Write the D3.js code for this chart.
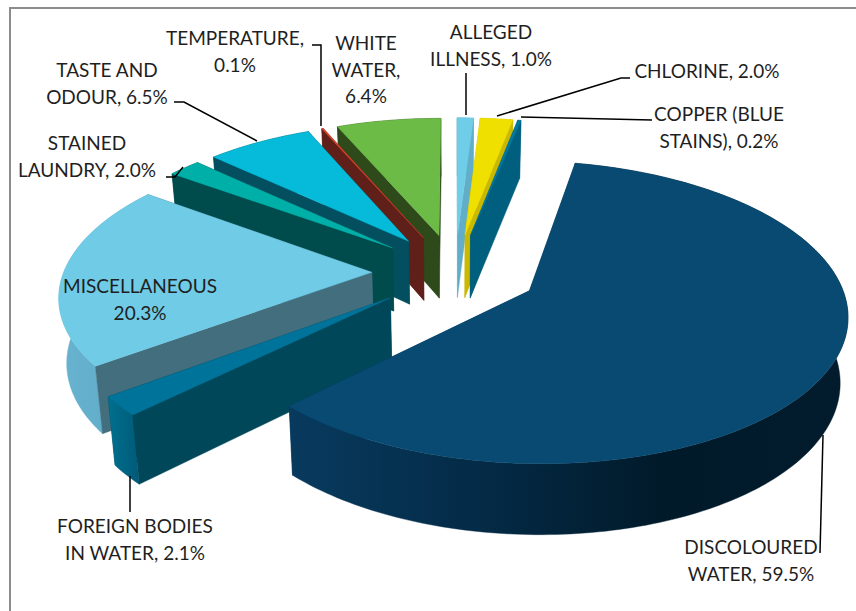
<!DOCTYPE html>
<html><head><meta charset="utf-8">
<style>html,body{margin:0;padding:0;background:#fff}svg{display:block}text{font-family:Lato,"Open Sans",sans-serif;font-size:19px;fill:#1f1f1f}</style>
<script src="https://cdn.jsdelivr.net/npm/d3@7"></script></head>
<body><svg id="c" width="856" height="611"></svg>
<script>
const categories=["DISCOLOURED WATER","FOREIGN BODIES IN WATER","MISCELLANEOUS","STAINED LAUNDRY","TASTE AND ODOUR","TEMPERATURE","WHITE WATER","ALLEGED ILLNESS","CHLORINE","COPPER (BLUE STAINS)"];
const values=[59.5,2.1,20.3,2.0,6.5,0.1,6.4,1.0,2.0,0.2];
const labelLines=[["DISCOLOURED","WATER, 59.5%"],["FOREIGN BODIES","IN WATER, 2.1%"],["MISCELLANEOUS","20.3%"],["STAINED","LAUNDRY, 2.0%"],["TASTE AND","ODOUR, 6.5%"],["TEMPERATURE,","0.1%"],["WHITE","WATER,","6.4%"],["ALLEGED","ILLNESS, 1.0%"],["CHLORINE, 2.0%"],["COPPER (BLUE","STAINS), 0.2%"]];
const topColors=["#084a72","#00739a","#6fcbe6","#00b0a8","#06bad9","#e0432b","#6cbb47","#70cde8","#efe000","#00799f"];
const sideColors=["#073a5c","#00475a","#426e7e","#004b4b","#034f60","#60201a","#2e4a1b","#62adc8","#cbb800","#005f7f"];
const outerColors=[["#083a5e","#042b47","#011a2a","#021c2d"],["#00708f","#005a78"],["#68b3cf","#5ba8c6"],["#004b4b"],["#034f60"],["#60201a"],["#2e4a1b"],["#62adc8"],["#cbb800"],["#005f7f"]];
const paintOrder=[7,8,9,6,5,4,3,2,1,0];
const labelPos=[[751,548],[135,527],[140,287],[87,144],[107,71],[235,39],[366,44],[491,33],[707,72],[719,115]];
const leaders=[[[823,435],[820,553]],[[130,476],[130,512]],[],[[166,177],[175,177],[183,167]],[[174,102],[184,102],[257,141]],[[312,45],[321,45],[321,126]],[],[[466,73],[466,115]],[[630,78],[621,78],[497,116]],[[652,120],[521,117]]];

const cx=455,cy=272,persp=0.14,explode=0.27,depth=64,startDeg=11.5,inset=0.02;
const sx=d3.scaleLinear().domain([-1,1]).range([-308,308]);
const sy=d3.scaleLinear().domain([-1,1]).range([-143,143]);
const project=(X,Y,z)=>{const s=1/(1-persp*Y);return [cx+sx(X)*s*(1-inset*z),cy+sy(Y)*s+z*depth*Math.pow(s,0.6)];};
const a0=startDeg*Math.PI/180;
const pie=d3.pie().sort(null).startAngle(a0).endAngle(a0+2*Math.PI);
const arcs=pie(values);
const svg=d3.select("#c");
const defs=svg.append("defs");
const line=d3.line();
const area2=p=>{let a=0;p.forEach((q,i)=>{const r=p[(i+1)%p.length];a+=q[0]*r[1]-r[0]*q[1];});return a/2;};

arcs.forEach((d,i)=>{
  const mid=(d.startAngle+d.endAngle)/2;
  const ox=explode*Math.sin(mid),oy=-explode*Math.cos(mid);
  const rim=(t,z)=>project(ox+Math.sin(t),oy-Math.cos(t),z);
  const apex=z=>project(ox,oy,z);
  const n=Math.max(2,Math.ceil((d.endAngle-d.startAngle)/0.02));
  const ts=d3.range(n+1).map(k=>d.startAngle+(d.endAngle-d.startAngle)*k/n);
  d.top=[apex(0),...ts.map(t=>rim(t,0))];
  d.outer=[...ts.map(t=>rim(t,0)),...ts.slice().reverse().map(t=>rim(t,1))];
  d.wallS=[apex(0),rim(d.startAngle,0),rim(d.startAngle,1),apex(1)];
  d.wallE=[apex(0),rim(d.endAngle,0),rim(d.endAngle,1),apex(1)];
  d.sFront=area2(d.wallS)<0; d.eFront=area2(d.wallE)>0;
  const stops=outerColors[i];
  if(stops.length>1){
    const xs=d.outer.map(p=>p[0]);
    const g=defs.append("linearGradient").attr("id","g"+i).attr("gradientUnits","userSpaceOnUse")
      .attr("x1",d3.min(xs)).attr("x2",d3.max(xs)).attr("y1",0).attr("y2",0);
    stops.forEach((c,k)=>g.append("stop").attr("offset",k/(stops.length-1)).attr("stop-color",c));
  }
  d.outerFill=stops.length>1?`url(#g${i})`:stops[0];
});

svg.append("path").attr("d",line([[10,611],[10,8],[856,8]])).attr("fill","none").attr("stroke","#8c8c8c").attr("stroke-width",2);

const gs=svg.selectAll("g.slice").data(paintOrder.map(i=>arcs[i])).join("g").attr("class","slice");
gs.each(function(d){
  const g=d3.select(this),i=d.index;
  const walls=[{p:d.wallS,f:d.sFront},{p:d.wallE,f:d.eFront}];
  const face=(p,c)=>g.append("path").attr("d",line(p)+"Z").attr("fill",c).attr("stroke",c).attr("stroke-width",0.4);
  walls.filter(w=>!w.f).forEach(w=>face(w.p,sideColors[i]));
  face(d.outer,d.outerFill);
  walls.filter(w=>w.f).forEach(w=>face(w.p,sideColors[i]));
  face(d.top,topColors[i]);
});

svg.selectAll("path.leader").data(leaders.filter(l=>l.length)).join("path").attr("class","leader")
  .attr("d",l=>line(l)).attr("fill","none").attr("stroke","#000").attr("stroke-width",1.5);

categories.forEach((c,i)=>{
  const t=svg.append("text").attr("text-anchor","middle");
  labelLines[i].forEach((s,k)=>t.append("tspan").attr("x",labelPos[i][0]).attr("y",labelPos[i][1]+6+k*26.7).text(s));
});
</script></body></html>
